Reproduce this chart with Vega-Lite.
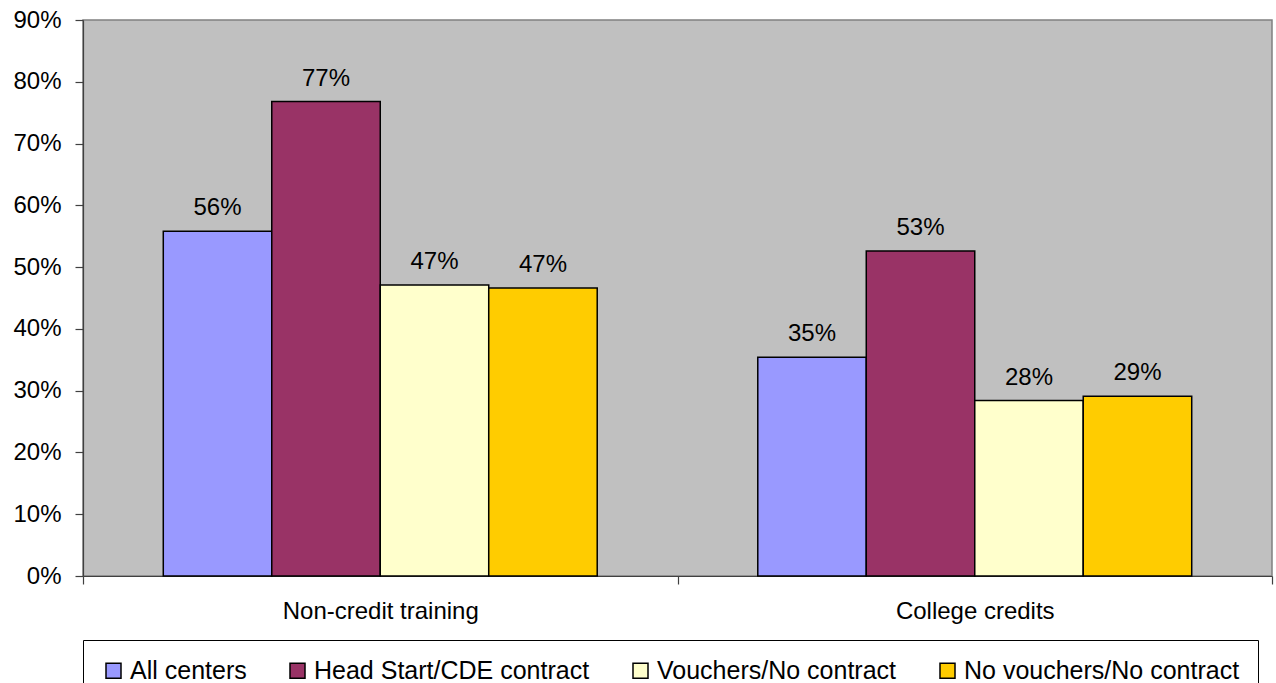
{
  "$schema": "https://vega.github.io/schema/vega-lite/v6.json",
  "autosize": {"type": "none"},
  "padding": {"left": 83, "top": 20, "right": 4, "bottom": 107},
  "width": 1189,
  "height": 556,
  "background": "white",
  "config": {
    "font": "Liberation Sans",
    "view": {"fill": "#C0C0C0", "stroke": "#808080", "strokeWidth": 1.5},
    "axis": {"labelFont": "Liberation Sans", "labelColor": "black", "labelFontSize": 24, "labelLimit": 500, "domainColor": "#404040", "tickColor": "#404040", "domainWidth": 1.2, "tickWidth": 1.2}
  },
  "data": {
    "values": [
      {"measure": "Non-credit training", "group": "All centers", "value": 0.558},
      {"measure": "Non-credit training", "group": "Head Start/CDE contract", "value": 0.768},
      {"measure": "Non-credit training", "group": "Vouchers/No contract", "value": 0.471},
      {"measure": "Non-credit training", "group": "No vouchers/No contract", "value": 0.466},
      {"measure": "College credits", "group": "All centers", "value": 0.354},
      {"measure": "College credits", "group": "Head Start/CDE contract", "value": 0.526},
      {"measure": "College credits", "group": "Vouchers/No contract", "value": 0.284},
      {"measure": "College credits", "group": "No vouchers/No contract", "value": 0.291}
    ]
  },
  "encoding": {
    "x": {
      "field": "measure", "type": "nominal",
      "sort": ["Non-credit training", "College credits"],
      "scale": {"paddingInner": 0, "paddingOuter": 0},
      "axis": {"title": null, "labelAngle": 0, "tickBand": "extent", "tickSize": 8, "labelPadding": 15}
    },
    "xOffset": {
      "field": "group", "type": "nominal",
      "sort": ["All centers", "Head Start/CDE contract", "Vouchers/No contract", "No vouchers/No contract"],
      "scale": {"paddingInner": 0, "paddingOuter": 0.74}
    },
    "y": {
      "field": "value", "type": "quantitative",
      "scale": {"domain": [0, 0.9], "nice": false},
      "axis": {"title": null, "format": ".0%", "values": [0, 0.1, 0.2, 0.3, 0.4, 0.5, 0.6, 0.7, 0.8, 0.9], "grid": false, "tickSize": 8, "labelPadding": 14}
    }
  },
  "layer": [
    {
      "mark": {"type": "bar", "stroke": "black", "strokeWidth": 1.5},
      "encoding": {
        "color": {
          "field": "group", "type": "nominal",
          "scale": {"domain": ["All centers", "Head Start/CDE contract", "Vouchers/No contract", "No vouchers/No contract"], "range": ["#9999FF", "#993366", "#FFFFCC", "#FFCC00"]},
          "legend": {
            "title": null, "orient": "none", "legendX": 0, "legendY": 620, "direction": "horizontal",
            "symbolType": "square", "symbolSize": 225, "symbolStrokeColor": "black", "symbolStrokeWidth": 1.5, "symbolOpacity": 1,
            "labelFont": "Liberation Sans", "labelFontSize": 25, "labelColor": "black", "labelLimit": 400, "labelOffset": 4,
            "columnPadding": 38, "padding": 18, "strokeColor": "black", "fillColor": "white"
          }
        }
      }
    },
    {
      "mark": {"type": "text", "baseline": "alphabetic", "dy": -16, "fontSize": 24, "font": "Liberation Sans", "color": "black"},
      "encoding": {"text": {"field": "value", "type": "quantitative", "format": ".0%"}}
    }
  ]
}
